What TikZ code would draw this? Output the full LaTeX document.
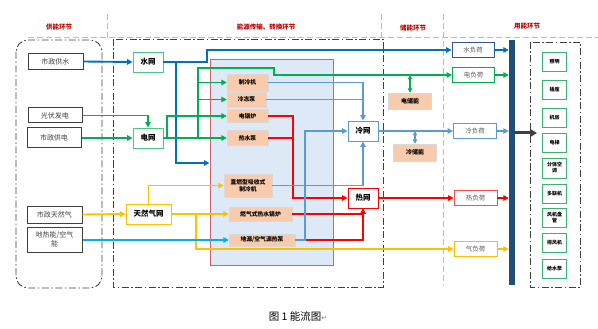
\documentclass[tikz,border=0pt]{standalone}
\usepackage{fontspec}
\newfontfamily\cjk{Noto Sans CJK SC}
\newfontfamily\dejavu{DejaVu Sans}
\usetikzlibrary{arrows.meta}
\definecolor{cwater}{HTML}{0070C0}
\definecolor{celec}{HTML}{00B050}
\definecolor{cgas}{HTML}{FFC000}
\definecolor{cheat}{HTML}{FF0000}
\definecolor{ccold}{HTML}{5B9BD5}
\definecolor{cgeo}{HTML}{00B0F0}
\definecolor{peach}{HTML}{F8CBAD}
\definecolor{convfill}{HTML}{DDE9F6}
\definecolor{convedge}{HTML}{D0646A}
\definecolor{barblue}{HTML}{1F4E79}
\definecolor{hdrred}{HTML}{C00000}
\definecolor{hdrline}{HTML}{9DC3E6}
\definecolor{usegreen}{HTML}{3CB371}
\definecolor{wloadedge}{HTML}{2F5597}
\begin{document}
\begin{tikzpicture}[x=1pt,y=-1pt,
  ln/.style={line width=1.9pt},
  arr/.style={-{Triangle[length=5.5pt,width=5.5pt]}},
  dbl/.style={{Triangle[length=4.5pt,width=4.5pt]}-{Triangle[length=4.5pt,width=4.5pt]}},
  src/.style={draw=black!75, line width=1pt, fill=white, inner sep=0pt, minimum width=55pt, minimum height=16pt, font=\cjk\fontsize{7}{8.5}\selectfont, text=black!75, align=center},
  hub/.style={draw, line width=0.9pt, fill=white, inner sep=0pt, minimum width=30pt, minimum height=20pt, font=\cjk\bfseries\fontsize{7.5}{9}\selectfont},
  cbox/.style={draw=black!15, fill=peach, inner sep=0pt, font=\cjk\bfseries\fontsize{5.8}{7}\selectfont, align=center},
  load/.style={draw, line width=0.9pt, fill=white, inner sep=0pt, minimum width=42pt, minimum height=15pt, font=\cjk\fontsize{6.5}{8}\selectfont, text=black!65},
  usebox/.style={draw=usegreen, line width=0.9pt, fill=white, inner sep=0pt, minimum width=24pt, minimum height=19pt, font=\cjk\bfseries\fontsize{5}{6}\selectfont, align=center},
  hdr/.style={font=\cjk\bfseries\fontsize{6.5}{8}\selectfont, text=hdrred},
  dashdot/.style={draw=black!75, line width=0.9pt, dash pattern=on 7pt off 2.5pt on 1.5pt off 2.5pt},
  hdash/.style={draw=hdrline, line width=1pt, dash pattern=on 6pt off 3pt}
]
\useasboundingbox (0,0) rectangle (598,329);

% section frames
\draw[hdash] (28,38) -- (598,38);
\draw[hdash] (107,14) -- (107,38);
\draw[hdash] (381,14) -- (381,38);
\draw[hdash] (443,14) -- (443,285);
\draw[dashdot, rounded corners=12pt] (16,40) rectangle (102,288);
\draw[dashdot] (113,39) rectangle (383,287);
\draw[dashdot] (530,42) rectangle (580,287);

% headers
\node[hdr] (h1) at (59,27) {供能环节};
\node[hdr] (h2) at (266,27) {能源传输、转换环节};
\node[hdr] (h3) at (413,28) {储能环节};
\node[hdr] (h4) at (527,26) {用能环节};

% conversion area
\node[draw=convedge, line width=1pt, fill=convfill, minimum width=123pt, minimum height=205pt, inner sep=0pt] (conv) at (271.5,162.5) {};

% sources
\node[src] (sw) at (55.5,61.5) {市政供水};
\node[src, minimum width=54pt, minimum height=15pt] (pv) at (55,115.5) {光伏发电};
\node[src, minimum width=54pt, minimum height=20pt] (sp) at (54,138) {市政供电};
\node[src, minimum height=17pt] (sg) at (54.5,214.5) {市政天然气};
\node[src, minimum height=25pt] (geo) at (54.5,239.5) {地热能/空气\\能};

% hubs
\node[hub, draw=celec!70] (wn) at (148,62) {水网};
\node[hub, draw=celec!70] (en) at (148,138) {电网};
\node[hub, draw=cgas, minimum width=45pt] (gn) at (148.5,214) {天然气网};
\node[hub, draw=ccold] (cn) at (363,131) {冷网};
\node[hub, draw=cheat] (hn) at (363,198) {热网};

% conversion devices
\node[cbox, minimum width=41pt, minimum height=17pt] (chl) at (247.5,82.5) {制冷机};
\node[cbox, minimum width=39pt, minimum height=15pt] (pump) at (246.5,99.5) {冷冻泵};
\node[cbox, minimum width=41pt, minimum height=13pt] (eb) at (247.5,116) {电锅炉};
\node[cbox, minimum width=41pt, minimum height=15pt] (hwp) at (247.5,138) {热水泵};
\node[cbox, minimum width=48pt, minimum height=23pt] (abs) at (248,185.5) {直燃型吸收式\\制冷机};
\node[cbox, minimum width=63pt, minimum height=14pt] (gb) at (260.5,214) {燃气式热水锅炉};
\node[cbox, minimum width=66pt, minimum height=12pt] (hp) at (262,240) {地源/空气源热泵};

% storage
\node[cbox, minimum width=43pt, minimum height=16pt, font=\cjk\bfseries\fontsize{6}{7}\selectfont] (est) at (410,101) {电储能};
\node[cbox, minimum width=43pt, minimum height=17pt, font=\cjk\bfseries\fontsize{6}{7}\selectfont] (cst) at (415,152.5) {冷储能};

% loads
\node[load, draw=wloadedge] (wl) at (473,50) {水负荷};
\node[load, draw=celec] (el) at (473.5,75) {电负荷};
\node[load, draw=ccold, minimum width=43pt] (cl) at (475,131) {冷负荷};
\node[load, draw=cheat!70, minimum width=43pt] (hl) at (475.5,198) {热负荷};
\node[load, draw=cgas, minimum width=43pt] (gl) at (475.5,249) {气负荷};

% bar
\node[fill=barblue, inner sep=0pt, minimum width=6pt, minimum height=245pt] (bar) at (512,162.5) {};

% end uses
\node[usebox] (u1) at (554.5,61.5) {照明};
\node[usebox] (u2) at (554.5,89.5) {插座};
\node[usebox] (u3) at (554.5,117.5) {机房};
\node[usebox] (u4) at (554.5,142.5) {电梯};
\node[usebox, minimum height=20pt] (u5) at (554.5,168) {分体空\\调};
\node[usebox] (u6) at (554.5,193.5) {多联机};
\node[usebox] (u7) at (554.5,217.5) {风机盘\\管};
\node[usebox] (u8) at (554.5,243) {排风机};
\node[usebox] (u9) at (554.5,268.5) {给水泵};

% ---- water
\draw[ln, cwater, arr] (sw.east) -- (wn.west);
\draw[ln, cwater, arr] (wn.east) -- (207,62) |- (wl.west);
\coordinate (wb) at (conv.west |- 0,163);
\draw[ln, cwater, arr] (176,62) |- (wb);
\draw[ln, cwater, arr] (wl.east) -- (wl.east -| bar.west);

% ---- electricity
\draw[ln, celec, arr] (sp.east) -- (en.west);
\draw[ln, celec, arr] (pv.east) -| (en.north);
\draw[ln, celec, arr] (en.east) -- (hwp.west);
\draw[ln, celec, arr] (198,138) |- (chl.west);
\draw[ln, celec, arr] (198,138) |- (pump.west);
\draw[ln, celec, arr] (167,138) |- (eb.west);
\draw[ln, celec, arr] (198,138) |- (274,68) |- (el.west);
\draw[line width=1.5pt, celec, dbl] (410,75) -- (est.north);
\draw[ln, celec, arr] (el.east) -- (el.east -| bar.west);

% ---- gas
\draw[ln, cgas, arr] (sg.east) -- (gn.west);
\draw[ln, cgas, arr] (gn.north) |- (abs.west);
\draw[ln, cgas, arr] (gn.east) -- (gb.west);
\draw[ln, cgas, arr] (196,214) |- (gl.west);
\draw[ln, cgas, arr] (gl.east) -- (gl.east -| bar.west);

% ---- geothermal
\draw[ln, cgeo, arr] (geo.east |- hp.west) -- (hp.west);

% ---- heat
\draw[ln, cheat, arr] (eb.east) -| (293,198) -- (hn.west);
\draw[ln, cheat] (hwp.east) -- (293,138);
\draw[ln, cheat, arr] (gb.east) -| (hn.south);
\draw[ln, cheat, arr] (hp.east) -| (hn.south);
\draw[ln, cheat, arr] (hn.east) -- (hl.west);
\draw[ln, cheat, arr] (hl.east) -- (hl.east -| bar.west);

% ---- cold
\draw[ln, ccold, arr] (chl.east) -| (cn.north);
\draw[ln, ccold] (pump.east) -- (363,99.5);
\draw[ln, ccold, arr] (abs.east) -| (cn.south);
\draw[ln, ccold, arr] (hp.east) -- (305,240) |- (cn.west);
\draw[ln, ccold, arr] (cn.east) -- (cl.west);
\draw[line width=1.5pt, ccold, dbl] (415,131) -- (cst.north);
\draw[ln, ccold, arr] (cl.east) -- (cl.east -| bar.west);

% ---- to end uses
\coordinate (ba) at (537,133);
\draw[line width=3pt, black!75, -{Triangle[length=7pt,width=8pt]}] (bar.east |- ba) -- (ba);

% caption
\node[font=\cjk\fontsize{10.5}{12}\selectfont, inner sep=0pt] (cap) at (298,316) {图 1 能流图{\dejavu\fontsize{7}{8}\selectfont\color{black!50}↵}};
\end{tikzpicture}
\end{document}
